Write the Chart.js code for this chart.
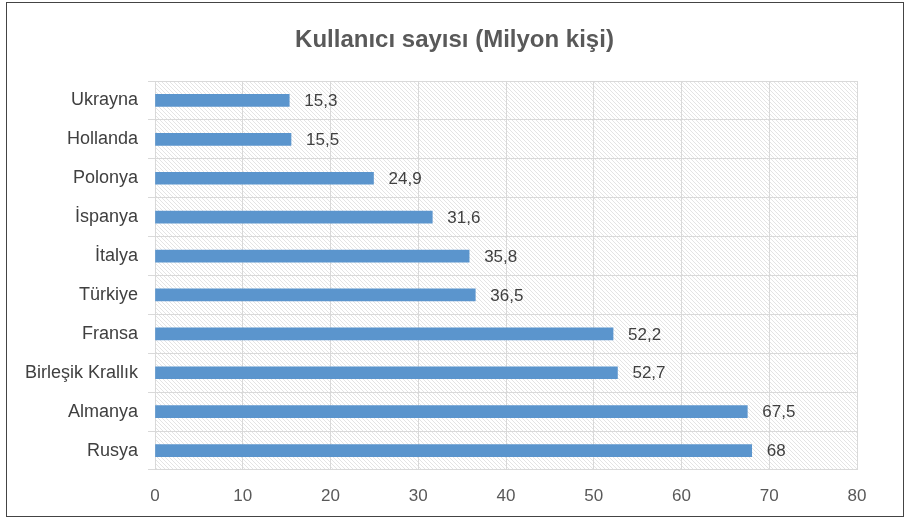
<!DOCTYPE html>
<html>
<head>
<meta charset="utf-8">
<script src="https://cdn.jsdelivr.net/npm/chart.js@4"></script>
<style>
  html, body { margin: 0; padding: 0; background: #fff; }
  #wrap { position: relative; width: 909px; height: 520px; }
  #frame { position: absolute; left: 6px; top: 2px; width: 898px; height: 515px; border: 1px solid #444; box-sizing: border-box; pointer-events: none; }
</style>
</head>
<body>
<div id="wrap">
  <canvas id="chart" width="909" height="520"></canvas>
  <div id="frame"></div>
</div>
<script>
const categories = ['Ukrayna', 'Hollanda', 'Polonya', 'İspanya', 'İtalya', 'Türkiye', 'Fransa', 'Birleşik Krallık', 'Almanya', 'Rusya'];
const users = [15.3, 15.5, 24.9, 31.6, 35.8, 36.5, 52.2, 52.7, 67.5, 68];
const xTicks = [0, 10, 20, 30, 40, 50, 60, 70, 80];
const chartTitle = 'Kullanıcı sayısı (Milyon kişi)';

const FONT = '"Liberation Sans", Arial, sans-serif';

// desen: ince çapraz çizgiler
function makeHatch(ctx) {
    const c = document.createElement('canvas');
    c.width = 4; c.height = 4;
    const p = c.getContext('2d');
    p.fillStyle = '#ffffff';
    p.fillRect(0, 0, 4, 4);
    p.strokeStyle = '#e4e4e4';
    p.lineWidth = 1;
    p.beginPath();
    p.moveTo(0, 0); p.lineTo(4, 4);
    p.moveTo(-1, 3); p.lineTo(1, 5);
    p.moveTo(3, -1); p.lineTo(5, 1);
    p.stroke();
    return ctx.createPattern(c, 'repeat');
}

const hatchBg = {
    id: 'hatchBg',
    beforeDraw(chart) {
        const { ctx, chartArea: a } = chart;
        ctx.save();
        ctx.fillStyle = makeHatch(ctx);
        ctx.fillRect(a.left, a.top, a.right - a.left, a.bottom - a.top);
        ctx.restore();
    }
};

// başlık tüm tuvalin ortasında
const centeredTitle = {
    id: 'centeredTitle',
    afterDraw(chart) {
        const ctx = chart.ctx;
        ctx.save();
        ctx.font = 'bold 24px ' + FONT;
        ctx.fillStyle = '#595959';
        ctx.textAlign = 'center';
        ctx.textBaseline = 'middle';
        ctx.fillText(chartTitle, chart.width / 2, 40);
        ctx.restore();
    }
};

const valueLabels = {
    id: 'valueLabels',
    afterDatasetsDraw(chart) {
        const ctx = chart.ctx;
        const meta = chart.getDatasetMeta(0);
        ctx.save();
        ctx.font = '17px ' + FONT;
        ctx.fillStyle = '#404040';
        ctx.textBaseline = 'middle';
        ctx.textAlign = 'left';
        meta.data.forEach((bar, i) => {
            ctx.fillText(String(users[i]).replace('.', ','), bar.x + 15, bar.y + 1);
        });
        ctx.restore();
    }
};

new Chart(document.getElementById('chart'), {
    type: 'bar',
    data: {
        labels: categories,
        datasets: [{
            data: users,
            backgroundColor: '#5b95cd',
            barThickness: 12
        }]
    },
    plugins: [hatchBg, valueLabels, centeredTitle],
    options: {
        indexAxis: 'y',
        responsive: false,
        animation: false,
        layout: { padding: { left: 0, right: 52, top: 81, bottom: 14 } },
        plugins: {
            legend: { display: false },
            tooltip: { enabled: false },
            title: { display: false }
        },
        scales: {
            x: {
                min: 0,
                max: 80,
                afterBuildTicks: (axis) => { axis.ticks = xTicks.map(v => ({ value: v })); },
                afterFit: (axis) => { axis.height = 36; },
                grid: { color: '#d9d9d9', drawTicks: false },
                border: { display: false },
                ticks: {
                    color: '#595959',
                    padding: 16,
                    font: { family: FONT, size: 17 }
                }
            },
            y: {
                afterFit: (axis) => { axis.width = 155; },
                grid: { color: '#d9d9d9', drawTicks: true, tickLength: 7, offset: true },
                border: { display: false },
                ticks: {
                    color: '#404040',
                    padding: 10,
                    font: { family: FONT, size: 18 }
                }
            }
        }
    }
});
</script>
</body>
</html>
